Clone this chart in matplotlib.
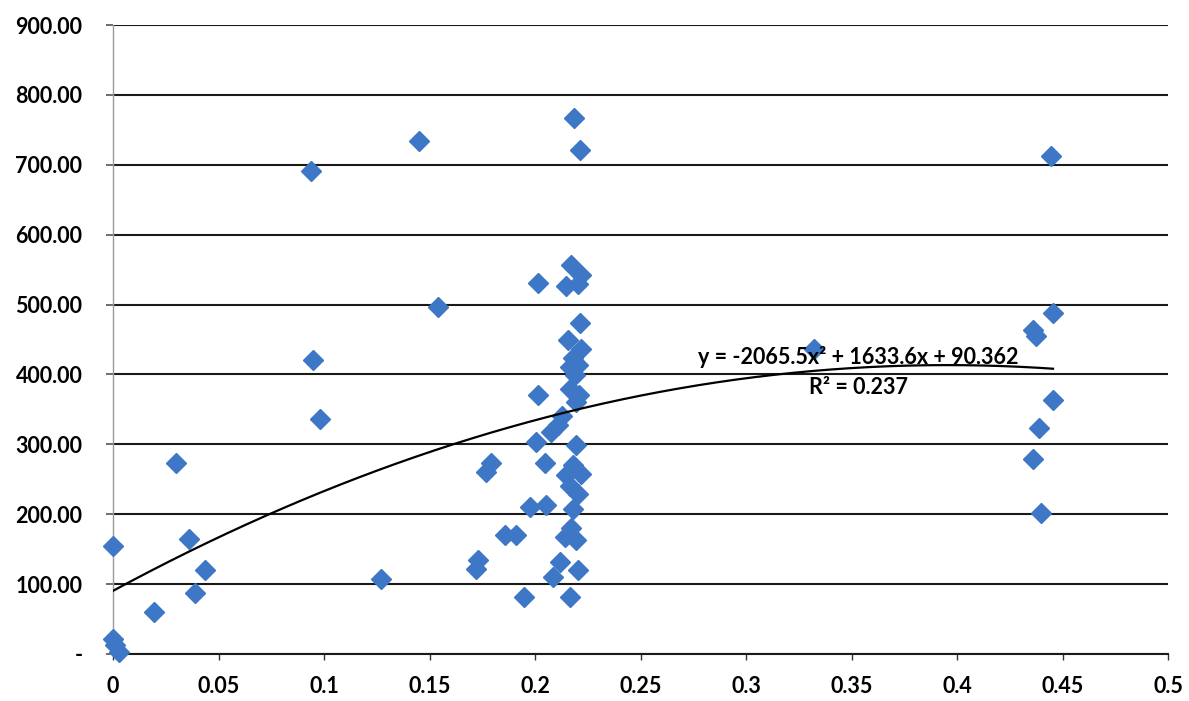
import numpy as np
import matplotlib.pyplot as plt
from matplotlib import font_manager
from matplotlib.ticker import FuncFormatter, MultipleLocator

# scatter values
x_vals = [0.000, 0.000, 0.001, 0.003, 0.0194, 0.030, 0.036, 0.039, 0.0436,
          0.094, 0.095, 0.098, 0.127, 0.145, 0.154,
          0.172, 0.173, 0.177, 0.179, 0.186, 0.191, 0.195, 0.1976,
          0.2014, 0.2014, 0.2005, 0.205, 0.2047, 0.2076, 0.211, 0.213,
          0.2085, 0.2118,
          0.2185, 0.2213, 0.217, 0.2218, 0.2147, 0.2204, 0.2213, 0.2156,
          0.2218, 0.218, 0.2166, 0.2204, 0.219, 0.2166, 0.2194, 0.221,
          0.2194, 0.218, 0.2147, 0.2218, 0.2166, 0.2204, 0.218, 0.217,
          0.2142, 0.2194, 0.2204, 0.2166,
          0.332, 0.4445, 0.4455, 0.436, 0.4375, 0.4455, 0.439, 0.436, 0.440]
y_vals = [154, 21, 13, 3, 60, 274, 164, 87, 120,
          691, 420, 336, 107, 734, 496,
          121, 134, 260, 274, 170, 170, 81, 210,
          531, 370, 303, 213, 274, 317, 327, 341,
          110, 131,
          767, 721, 556, 543, 527, 529, 474, 450,
          436, 424, 410, 413, 399, 379, 360, 371,
          299, 271, 256, 257, 241, 229, 207, 181,
          167, 163, 120, 81,
          437, 712, 488, 464, 455, 364, 324, 279, 202]

# polynomial trendline (order 2) as printed on the chart
coef = [-2065.5, 1633.6, 90.362]
eq_label = "y = -2065.5x² + 1633.6x + 90.362"
r2_label = "R² = 0.237"

# use Lato if a bold face exists, else Roboto
bold_fams = {f.name for f in font_manager.fontManager.ttflist
             if str(f.weight) in ("bold", "700", "heavy", "800", "black", "900")
             or (isinstance(f.weight, int) and f.weight >= 600)}
fam = "Lato" if "Lato" in bold_fams else "Roboto"

fig = plt.figure(figsize=(11.89, 7.01), dpi=100)
ax = fig.add_axes([113 / 1189, 1 - 654 / 701, 1055 / 1189, 629 / 701])

ax.plot(x_vals, y_vals, linestyle="none", marker="D", ms=10,
        color="#3d77c6", zorder=3, clip_on=False)

xs = np.linspace(0, max(x_vals), 200)
ax.plot(xs, np.polyval(coef, xs), color="black", lw=1.6, zorder=4)

ax.text(0.3533, 425, eq_label, ha="center", va="center", fontsize=15.5,
        family=fam, fontweight="bold", zorder=5)
ax.text(0.3533, 382, r2_label, ha="center", va="center", fontsize=15.5,
        family=fam, fontweight="bold", zorder=5)

ax.set_xlim(0, 0.5)
ax.set_ylim(0, 900)
ax.xaxis.set_major_locator(MultipleLocator(0.05))
ax.yaxis.set_major_locator(MultipleLocator(100))
ax.xaxis.set_major_formatter(FuncFormatter(lambda v, p: f"{v:g}"))
ax.yaxis.set_major_formatter(FuncFormatter(lambda v, p: "-" if abs(v) < 1e-9 else f"{v:.2f}"))

ax.grid(axis="y", color="#1a1a1a", lw=1.5)
ax.set_axisbelow(True)
for s in ["top", "right"]:
    ax.spines[s].set_visible(False)
ax.spines["left"].set_color("#9a9a9a")
ax.spines["left"].set_linewidth(1.0)
ax.spines["bottom"].set_color("#1a1a1a")
ax.spines["bottom"].set_linewidth(1.5)

ax.tick_params(axis="y", length=5, width=1.2, color="#555555", pad=17)
ax.tick_params(axis="x", length=4.5, width=1.0, color="#333333", pad=11)
for lab in ax.get_xticklabels() + ax.get_yticklabels():
    lab.set_family(fam)
    lab.set_fontweight("bold")
    lab.set_fontsize(15.5)

fig.savefig("out.png", dpi=100)
